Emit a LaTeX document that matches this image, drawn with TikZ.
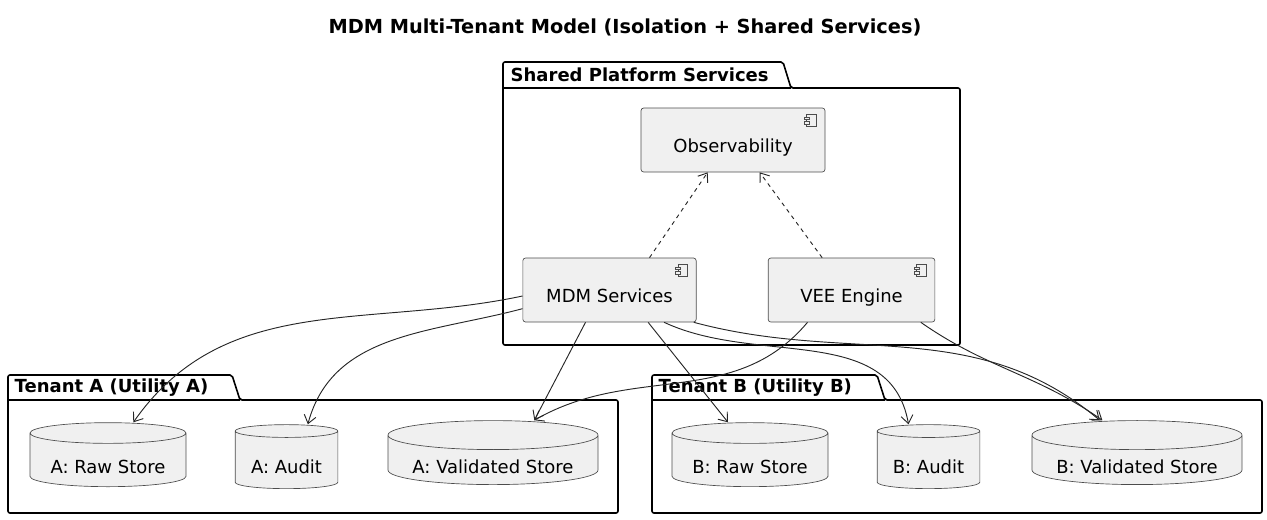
\documentclass[tikz,border=0pt]{standalone}
\usepackage{fontspec}
\setmainfont{DejaVu Sans}
\usetikzlibrary{shapes.geometric,arrows.meta}
\newcommand{\dn}[2]{\raisebox{-#1}[0pt][0pt]{#2}}
\begin{document}
\begin{tikzpicture}[x=0.75pt,y=-0.75pt,
  font=\fontsize{13.5}{15}\selectfont,
  bfont/.style={font=\fontsize{13.5}{15}\selectfont\bfseries},
  comp/.style={draw=black!70,fill=black!6,rounded corners=2pt,minimum width=#1,minimum height=48pt,inner sep=0pt,line width=0.5pt},
  db/.style={draw=black!70,fill=black!6,cylinder,shape border rotate=90,aspect=0.18,minimum width=#1,minimum height=48pt,inner sep=0pt,line width=0.5pt},
  pkg/.style={draw=black,line width=1.2pt,rounded corners=1.5pt},
  arr/.style={-{Straight Barb[length=6pt,width=9pt]},draw=black!85,line width=0.7pt},
  dep/.style={arr,dashed}]
\useasboundingbox (0,0) rectangle (1267,519);
\node[font=\fontsize{14.5}{16}\selectfont\bfseries] (title) at (625,27) {MDM Multi-Tenant Model (Isolation + Shared Services)};
% packages
\draw[pkg] (503,88) -- (503,62) -- (783,62) -- (791,88) -- (960,88) -- (960,345) -- (503,345) -- cycle (503,88) -- (791,88);
\node[anchor=west,bfont] (p1) at (506,75) {Shared Platform Services};
\draw[pkg] (8,400) -- (8,375) -- (232,375) -- (240,400) -- (618,400) -- (618,513) -- (8,513) -- cycle (8,400) -- (240,400);
\node[anchor=west,bfont] (p2) at (10,388) {Tenant A (Utility A)};
\draw[pkg] (652,400) -- (652,375) -- (877,375) -- (885,400) -- (1262,400) -- (1262,513) -- (652,513) -- cycle (652,400) -- (885,400);
\node[anchor=west,bfont] (p3) at (654,388) {Tenant B (Utility B)};
% components
\node[comp=138pt] (obs) at (733,140) {\dn{9pt}{Observability}};
\node[comp=130pt] (mdm) at (609.5,290) {\dn{9pt}{MDM Services}};
\node[comp=125pt] (vee) at (851.5,290) {\dn{9pt}{VEE Engine}};
\foreach \n in {obs,mdm,vee}{
  \draw[black!70,line width=0.4pt,fill=black!6] ([xshift=-14pt,yshift=-5pt]\n.north east) rectangle ([xshift=-7pt,yshift=-14pt]\n.north east);
  \draw[black!70,line width=0.4pt,fill=black!6] ([xshift=-16pt,yshift=-7pt]\n.north east) rectangle ([xshift=-12pt,yshift=-9pt]\n.north east);
  \draw[black!70,line width=0.4pt,fill=black!6] ([xshift=-16pt,yshift=-10.5pt]\n.north east) rectangle ([xshift=-12pt,yshift=-12.5pt]\n.north east);
}
% stores
\node[db=117pt] (ar) at (108,460) {\dn{10pt}{A: Raw Store}};
\node[db=77pt] (aa) at (286.5,460) {\dn{10pt}{A: Audit}};
\node[db=157.5pt] (av) at (493,460) {\dn{10pt}{A: Validated Store}};
\node[db=117pt] (br) at (750,460) {\dn{10pt}{B: Raw Store}};
\node[db=77pt] (ba) at (928.5,460) {\dn{10pt}{B: Audit}};
\node[db=157.5pt] (bv) at (1137,460) {\dn{10pt}{B: Validated Store}};
% edges
\draw[dep] ([xshift=30pt]mdm.north) -- ([xshift=-19pt]obs.south);
\draw[dep] ([xshift=-22pt]vee.north) -- ([xshift=20pt]obs.south);
\draw[arr] ([yshift=-4.5pt]mdm.west) to[out=192,in=55] ([xshift=19pt]ar.north);
\draw[arr] ([yshift=-14pt]mdm.west) to[out=195,in=75] ([xshift=16pt]aa.north);
\draw[arr] ([xshift=-18pt]mdm.south) -- ([xshift=31pt]av.north);
\draw[arr] ([xshift=29pt]mdm.south) -- ([xshift=-16.5pt]br.north);
\draw[arr] ([xshift=41pt]mdm.south) to[out=-25,in=100] ([xshift=-15pt]ba.north);
\draw[arr] ([xshift=-2pt]mdm.south east) to[out=-15,in=140] ([xshift=-28pt]bv.north);
\draw[arr] ([xshift=-33pt]vee.south) to[out=-130,in=30] ([xshift=31pt]av.north);
\draw[arr] ([xshift=52pt]vee.south) to[out=-35,in=145] ([xshift=-26pt]bv.north);
\end{tikzpicture}
\end{document}
